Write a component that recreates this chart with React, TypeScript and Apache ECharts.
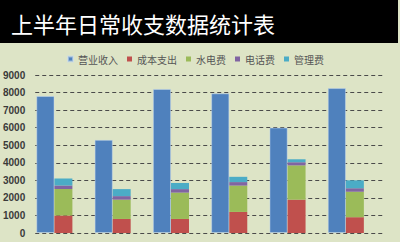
import React, { useEffect, useRef } from "react";
import * as echarts from "echarts";

// Half-year income / expense figures by month
const months = ["1月", "2月", "3月", "4月", "5月", "6月"];
const seriesNames = ["营业收入", "成本支出", "水电费", "电话费", "管理费"];
const income = [7800, 5300, 8200, 7950, 6000, 8250];
const cost = [1000, 800, 800, 1200, 1900, 900];
const utility = [1500, 1100, 1500, 1500, 1950, 1450];
const phone = [200, 200, 200, 200, 180, 200];
const management = [400, 400, 350, 300, 170, 450];
const yTicks = [0, 1000, 2000, 3000, 4000, 5000, 6000, 7000, 8000, 9000];

const colors = ["#4f81bd", "#c0504d", "#9bbb59", "#8064a2", "#4bacc6"];
const cjk = "'Noto Sans CJK SC', 'Noto Sans', sans-serif";

export default function App() {
  const ref = useRef<HTMLDivElement>(null);

  useEffect(() => {
    if (!ref.current) return;
    const chart = echarts.init(ref.current, undefined, { renderer: "svg" });

    const expenseSeries = [cost, utility, phone, management].map((data, i) => ({
      name: seriesNames[i + 1],
      type: "bar",
      stack: "expense",
      barWidth: 18,
      barGap: "0%",
      data,
      itemStyle: { color: colors[i + 1] },
    }));

    chart.setOption({
      animation: false,
      backgroundColor: "#dde4c6",
      graphic: [
        {
          type: "rect",
          shape: { x: 0, y: 0, width: 398, height: 43 },
          style: { fill: "#000000" },
          z: -1,
        },
      ],
      title: {
        text: "上半年日常收支数据统计表",
        left: 6,
        top: 7,
        textStyle: {
          color: "#ffffff",
          fontSize: 22,
          fontWeight: "normal",
          fontFamily: cjk,
        },
      },
      legend: {
        data: seriesNames,
        left: 62,
        top: 49,
        itemWidth: 5,
        itemHeight: 5,
        itemGap: 9,
        icon: "rect",
        textStyle: { fontSize: 10, color: "#555555", fontFamily: cjk },
      },
      grid: { left: 35, right: 15, top: 75, bottom: 9, containLabel: false },
      xAxis: {
        type: "category",
        data: months,
        axisLine: { show: false },
        axisTick: { show: false },
        axisLabel: { show: false },
      },
      yAxis: {
        type: "value",
        min: yTicks[0],
        max: yTicks[yTicks.length - 1],
        interval: 1000,
        axisLine: { show: false },
        axisTick: { show: false },
        axisLabel: {
          margin: 10,
          fontSize: 10,
          fontWeight: "bold",
          color: "#3a3a3a",
          fontFamily: "'Liberation Sans', Arial, sans-serif",
          formatter: (v: number) => String(v),
        },
        splitLine: {
          show: true,
          lineStyle: { color: "#4a4a4a", type: [4, 3], width: 1 },
        },
      },
      series: [
        {
          name: seriesNames[0],
          type: "bar",
          stack: "income",
          barWidth: 18,
          barGap: "0%",
          data: income,
          itemStyle: {
            color: colors[0],
            borderColor: "rgba(200,220,240,0.6)",
            borderWidth: 0.8,
          },
        },
        ...expenseSeries,
        {
          // empty slot keeps each pair of bars at the left of its category
          name: "",
          type: "bar",
          stack: "spacer",
          barWidth: 20,
          barGap: "0%",
          data: months.map(() => 0),
          itemStyle: { color: "transparent" },
          silent: true,
        },
      ],
    });

    return () => chart.dispose();
  }, []);

  return (
    <div
      ref={ref}
      style={{ position: "fixed", left: 0, top: 0, width: 400, height: 242 }}
    />
  );
}
